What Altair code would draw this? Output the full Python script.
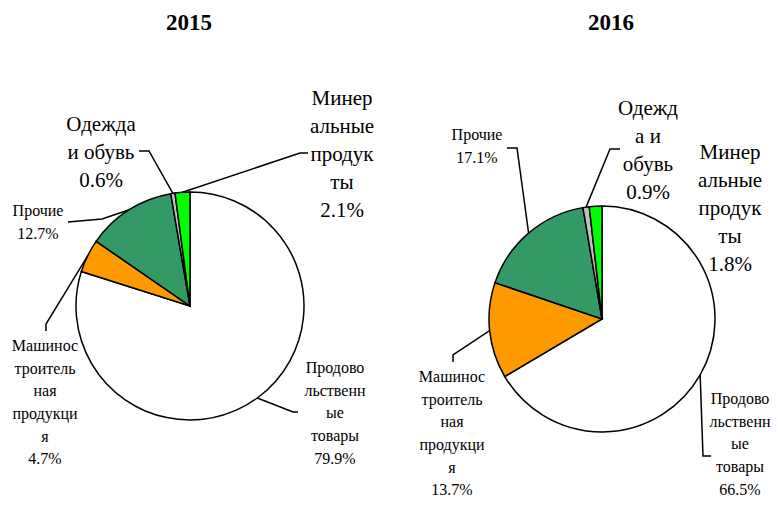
import math
import altair as alt
import pandas as pd

# ---------------- data ----------------
categories = ["Продовольственные товары", "Машиностроительная продукция",
              "Прочие", "Одежда и обувь", "Минеральные продукты"]
years = ["2015", "2016"]
share_2015 = [79.9, 4.7, 12.7, 0.6, 2.1]
share_2016 = [66.5, 13.7, 17.1, 0.9, 1.8]
lines_2015 = [["Продово", "льственн", "ые", "товары"],
              ["Машинос", "троитель", "ная", "продукци", "я"],
              ["Прочие"],
              ["Одежда", "и обувь"],
              ["Минер", "альные", "продук", "ты"]]
lines_2016 = [["Продово", "льственн", "ые", "товары"],
              ["Машинос", "троитель", "ная", "продукци", "я"],
              ["Прочие"],
              ["Одежд", "а и", "обувь"],
              ["Минер", "альные", "продук", "ты"]]
colors = ["#ffffff", "#ff9900", "#339966", "#c0c0c0", "#00ff00"]

# ---------------- layout (page pixels) ----------------
M = 8
FONT = "Liberation Serif, Times New Roman, DejaVu Serif, serif"
BIG = {"Одежда и обувь", "Минеральные продукты"}
BIG_FS, BIG_LH = 21, 28
SM_FS, SM_LH = 16, 22.6
PIE = {"2015": (190, 306, 114), "2016": (602, 319, 113)}
TITLE_POS = {"2015": (189, 22), "2016": (611, 22)}
LABEL_POS = {
    "2015": [(335, 368), (45, 346), (38, 211), (101, 124), (342, 98)],
    "2016": [(740, 399), (452, 377), (477, 135), (648, 108), (730, 152)],
}
LEADER = {
    "2015": [[(293, 412), (298, 412)], [(46, 324), (46, 331)], [(102, 219), (68, 222)],
             [(149, 151), (139, 151)], [(300, 153), (308, 153)]],
    "2016": [[(703, 456), (711, 456)], [(453, 355), (453, 362)], [(517, 148), (507, 148)],
             [(610, 149), (620, 149)], None],
}

shares = {"2015": share_2015, "2016": share_2016}
lines = {"2015": lines_2015, "2016": lines_2016}

layers = []
text_rows = []
leader_rows = []
for yr in years:
    cx, cy, r = PIE[yr]
    df = pd.DataFrame({"cat": categories, "share": shares[yr], "idx": list(range(len(categories)))})
    arc = alt.Chart(df).mark_arc(radius=r, stroke="black", strokeWidth=1.5).encode(
        theta=alt.Theta("share:Q", stack=True),
        order=alt.Order("idx:Q"),
        color=alt.Color("cat:N", scale=alt.Scale(domain=categories, range=colors), legend=None),
        x=alt.value(cx - M),
        y=alt.value(cy - M),
    )
    layers.append(arc)

    cum = 0.0
    total = sum(shares[yr])
    for i, (cat, v) in enumerate(zip(categories, shares[yr])):
        mid = (cum + v / 2) / total * 2 * math.pi
        cum += v
        big = cat in BIG
        fs = BIG_FS if big else SM_FS
        lx, ly = LABEL_POS[yr][i]
        text_rows.append({
            "label": "\n".join(lines[yr][i] + [f"{v:.1f}%"]),
            "tx": lx - M, "ty": ly - M + 0.33 * fs, "big": big,
        })
        route = LEADER[yr][i]
        if route:
            sx = cx + r * math.sin(mid)
            sy = cy - r * math.cos(mid)
            pts = [(sx, sy)] + route
            for k, (px, py) in enumerate(pts):
                leader_rows.append({"key": f"{yr}-{i}", "ord": k, "px": px - M, "py": py - M})

tdf = pd.DataFrame(text_rows)
ldf = pd.DataFrame(leader_rows)
title_df = pd.DataFrame({"t": years,
                         "tx": [TITLE_POS[y][0] - M for y in years],
                         "ty": [TITLE_POS[y][1] - M + 0.35 * 23 for y in years]})

lead = alt.Chart(ldf).mark_line(color="black", strokeWidth=1.5).encode(
    x=alt.X("px:Q", scale=None, axis=None),
    y=alt.Y("py:Q", scale=None, axis=None),
    detail="key:N",
    order="ord:Q",
)

big_txt = alt.Chart(tdf[tdf["big"]]).mark_text(
    font=FONT, fontSize=BIG_FS, lineHeight=BIG_LH, lineBreak="\n",
    align="center", baseline="alphabetic", color="black").encode(
    x=alt.X("tx:Q", scale=None, axis=None),
    y=alt.Y("ty:Q", scale=None, axis=None),
    text="label:N",
)
small_txt = alt.Chart(tdf[~tdf["big"]]).mark_text(
    font=FONT, fontSize=SM_FS, lineHeight=SM_LH, lineBreak="\n",
    align="center", baseline="alphabetic", color="black").encode(
    x=alt.X("tx:Q", scale=None, axis=None),
    y=alt.Y("ty:Q", scale=None, axis=None),
    text="label:N",
)
titles = alt.Chart(title_df).mark_text(
    font=FONT, fontSize=23, fontWeight="bold", align="center",
    baseline="alphabetic", color="black").encode(
    x=alt.X("tx:Q", scale=None, axis=None),
    y=alt.Y("ty:Q", scale=None, axis=None),
    text="t:N",
)

chart = alt.layer(*layers, lead, big_txt, small_txt, titles).resolve_scale(
    theta="independent"
).properties(
    width=762, height=494, autosize="none", padding=0
).configure_view(stroke=None)

chart.save("out.html", embed_options={"renderer": "svg", "actions": False})
